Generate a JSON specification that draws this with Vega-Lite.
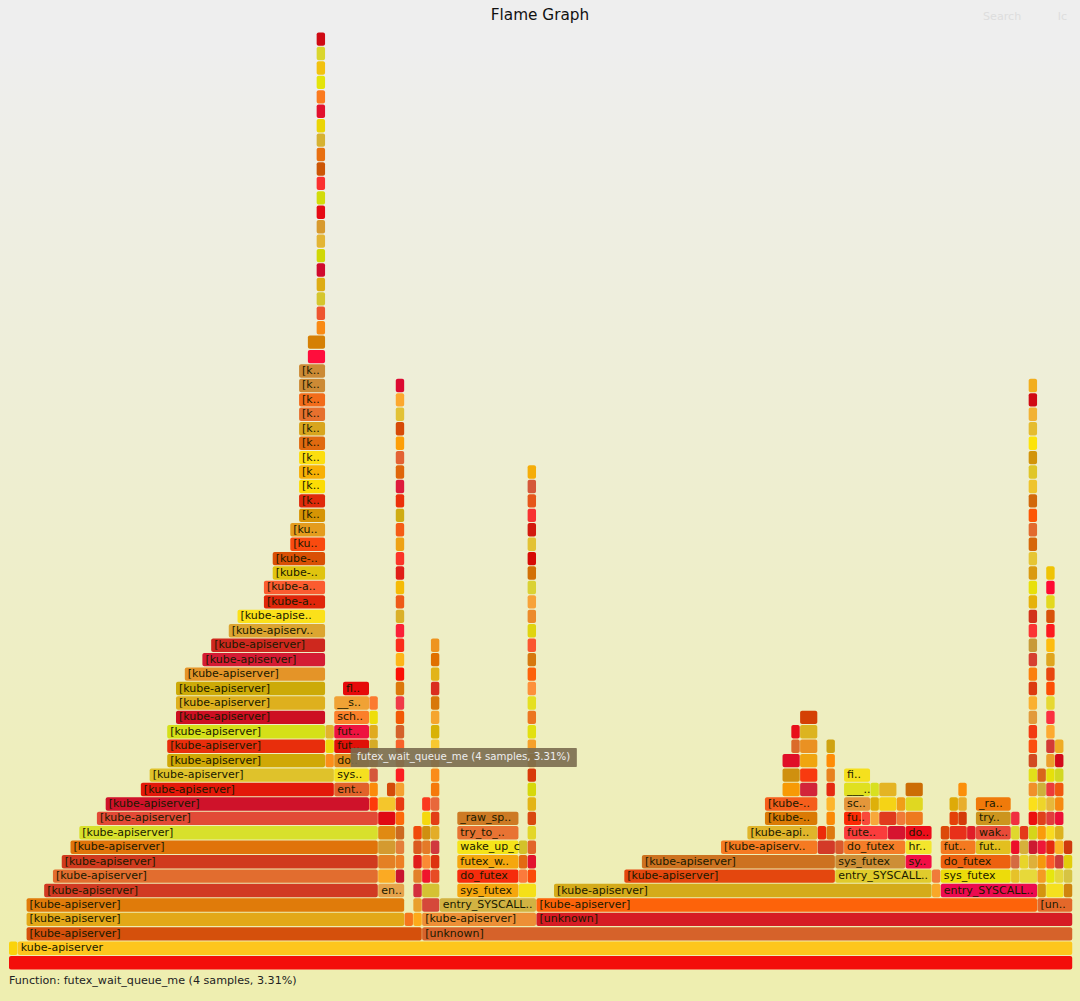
{"$schema":"https://vega.github.io/schema/vega-lite/v6.json","width":1080,"height":1001,"autosize":"none","padding":0,"background":"#eeeeee","config":{"view":{"stroke":null}},
"title":{"text":"Flame Graph","anchor":"middle","offset":-23,"fontSize":15.3,"font":"DejaVu Sans","fontWeight":"normal","color":"#111111"},
"datasets":{"frames":[
{"start":0,"end":121,"level":0,"color":"#f30e0a"},
{"start":0,"end":1,"level":1,"color":"#fad30c"},{"start":1,"end":121,"level":1,"color":"#fdc61d","label":"kube-apiserver"},
{"start":2,"end":47,"level":2,"color":"#d5500c","label":"[kube-apiserver]"},{"start":47,"end":121,"level":2,"color":"#d6622a","label":"[unknown]"},
{"start":2,"end":45,"level":3,"color":"#e3a818","label":"[kube-apiserver]"},{"start":45,"end":46,"level":3,"color":"#f5761d"},{"start":46,"end":47,"level":3,"color":"#fdaa1a"},{"start":47,"end":60,"level":3,"color":"#ed8f36","label":"[kube-apiserver]"},{"start":60,"end":121,"level":3,"color":"#d61c24","label":"[unknown]"},
{"start":2,"end":45,"level":4,"color":"#e07b0a","label":"[kube-apiserver]"},{"start":46,"end":47,"level":4,"color":"#e9a02c"},{"start":47,"end":49,"level":4,"color":"#d5483a"},{"start":49,"end":60,"level":4,"color":"#d2b342","label":"entry_SYSCALL.."},{"start":60,"end":117,"level":4,"color":"#fd630a","label":"[kube-apiserver]"},{"start":117,"end":121,"level":4,"color":"#e3682a","label":"[un.."},
{"start":4,"end":42,"level":5,"color":"#d13a23","label":"[kube-apiserver]"},{"start":42,"end":45,"level":5,"color":"#e6a24a","label":"en.."},{"start":46,"end":47,"level":5,"color":"#d3303c"},{"start":47,"end":49,"level":5,"color":"#d5c233"},{"start":51,"end":58,"level":5,"color":"#f5a60e","label":"sys_futex"},{"start":58,"end":60,"level":5,"color":"#f5e018"},{"start":62,"end":105,"level":5,"color":"#d4ab1a","label":"[kube-apiserver]"},{"start":105,"end":106,"level":5,"color":"#f9a828"},{"start":106,"end":117,"level":5,"color":"#ec0a50","label":"entry_SYSCALL.."},{"start":117,"end":118,"level":5,"color":"#d4940f"},{"start":118,"end":120,"level":5,"color":"#f5e01f"},{"start":120,"end":121,"level":5,"color":"#cf850f"},
{"start":5,"end":42,"level":6,"color":"#e26d2f","label":"[kube-apiserver]"},{"start":42,"end":44,"level":6,"color":"#fbaa23"},{"start":44,"end":45,"level":6,"color":"#c9152f"},{"start":46,"end":47,"level":6,"color":"#e2802a"},{"start":47,"end":48,"level":6,"color":"#f0152c"},{"start":48,"end":49,"level":6,"color":"#e74b25"},{"start":51,"end":58,"level":6,"color":"#f62c0c","label":"do_futex"},{"start":58,"end":59,"level":6,"color":"#fb7a3c"},{"start":59,"end":60,"level":6,"color":"#fb4a0a"},{"start":70,"end":94,"level":6,"color":"#e4470e","label":"[kube-apiserver]"},{"start":94,"end":105,"level":6,"color":"#e0cb2c","label":"entry_SYSCALL.."},{"start":105,"end":106,"level":6,"color":"#f07a3a"},{"start":106,"end":114,"level":6,"color":"#eddc0a","label":"sys_futex"},{"start":114,"end":115,"level":6,"color":"#e6c229"},{"start":115,"end":117,"level":6,"color":"#e7d93a"},{"start":117,"end":118,"level":6,"color":"#f49b22"},{"start":118,"end":119,"level":6,"color":"#e6e60e"},{"start":119,"end":120,"level":6,"color":"#e6d73c"},{"start":120,"end":121,"level":6,"color":"#d6c343"},
{"start":6,"end":42,"level":7,"color":"#d03a1e","label":"[kube-apiserver]"},{"start":42,"end":44,"level":7,"color":"#e48024"},{"start":44,"end":45,"level":7,"color":"#ed8024"},{"start":46,"end":47,"level":7,"color":"#e01e1a"},{"start":47,"end":48,"level":7,"color":"#fb8a34"},{"start":48,"end":49,"level":7,"color":"#dd3310"},{"start":51,"end":58,"level":7,"color":"#f5a70e","label":"futex_w.."},{"start":58,"end":59,"level":7,"color":"#e36a12"},{"start":59,"end":60,"level":7,"color":"#e2122e"},{"start":72,"end":94,"level":7,"color":"#cd7220","label":"[kube-apiserver]"},{"start":94,"end":102,"level":7,"color":"#cd8e36","label":"sys_futex"},{"start":102,"end":105,"level":7,"color":"#f20e44","label":"sy.."},{"start":106,"end":114,"level":7,"color":"#ed610f","label":"do_futex"},{"start":114,"end":115,"level":7,"color":"#d46a42"},{"start":115,"end":116,"level":7,"color":"#e8d52a"},{"start":116,"end":117,"level":7,"color":"#deb03a"},{"start":117,"end":118,"level":7,"color":"#f5980c"},{"start":118,"end":119,"level":7,"color":"#fa5a28"},{"start":119,"end":120,"level":7,"color":"#cd3c38"},{"start":120,"end":121,"level":7,"color":"#e2cd0a"},
{"start":7,"end":42,"level":8,"color":"#e0730a","label":"[kube-apiserver]"},{"start":42,"end":44,"level":8,"color":"#d49a30"},{"start":44,"end":45,"level":8,"color":"#e47f3a"},{"start":46,"end":47,"level":8,"color":"#da5a1e"},{"start":47,"end":48,"level":8,"color":"#e47a28"},{"start":48,"end":49,"level":8,"color":"#d0383e"},{"start":51,"end":58,"level":8,"color":"#f5e41a","label":"wake_up_c"},{"start":58,"end":59,"level":8,"color":"#d3c12a"},{"start":59,"end":60,"level":8,"color":"#e2642a"},{"start":81,"end":92,"level":8,"color":"#f57a22","label":"[kube-apiserv.."},{"start":92,"end":94,"level":8,"color":"#d33a28"},{"start":94,"end":95,"level":8,"color":"#da5a2c"},{"start":95,"end":102,"level":8,"color":"#f57d28","label":"do_futex"},{"start":102,"end":105,"level":8,"color":"#f3e52d","label":"hr.."},{"start":106,"end":110,"level":8,"color":"#f47a20","label":"fut.."},{"start":110,"end":114,"level":8,"color":"#e3bf1f","label":"fut.."},{"start":114,"end":115,"level":8,"color":"#ec0f2a"},{"start":115,"end":116,"level":8,"color":"#d6b03a"},{"start":116,"end":117,"level":8,"color":"#cc1a30"},{"start":117,"end":118,"level":8,"color":"#ee1838"},{"start":118,"end":119,"level":8,"color":"#e42a0f"},{"start":119,"end":120,"level":8,"color":"#fbb324"},{"start":120,"end":121,"level":8,"color":"#cf3a0e"},
{"start":8,"end":42,"level":9,"color":"#d8e02c","label":"[kube-apiserver]"},{"start":42,"end":44,"level":9,"color":"#e08a12"},{"start":44,"end":45,"level":9,"color":"#cc6a20"},{"start":46,"end":47,"level":9,"color":"#f04a0a"},{"start":47,"end":48,"level":9,"color":"#cf8f10"},{"start":48,"end":49,"level":9,"color":"#e3ad28"},{"start":51,"end":58,"level":9,"color":"#e87333","label":"try_to_.."},{"start":59,"end":60,"level":9,"color":"#e3d628"},{"start":84,"end":92,"level":9,"color":"#e0b52b","label":"[kube-api.."},{"start":92,"end":93,"level":9,"color":"#ec2c0a"},{"start":93,"end":94,"level":9,"color":"#dd7a0f"},{"start":95,"end":100,"level":9,"color":"#fa3c3c","label":"fute.."},{"start":100,"end":102,"level":9,"color":"#d6142f"},{"start":102,"end":105,"level":9,"color":"#ed0d1a","label":"do.."},{"start":106,"end":107,"level":9,"color":"#dc4a0a"},{"start":107,"end":109,"level":9,"color":"#e8301a"},{"start":109,"end":110,"level":9,"color":"#e01e28"},{"start":110,"end":114,"level":9,"color":"#e84a38","label":"wak.."},{"start":114,"end":115,"level":9,"color":"#dfd82e"},{"start":115,"end":116,"level":9,"color":"#e4381a"},{"start":116,"end":117,"level":9,"color":"#d5d51a"},{"start":117,"end":118,"level":9,"color":"#f99c0c"},{"start":118,"end":119,"level":9,"color":"#f8da20"},{"start":119,"end":120,"level":9,"color":"#dcb21e"},
{"start":10,"end":42,"level":10,"color":"#e24a36","label":"[kube-apiserver]"},{"start":42,"end":44,"level":10,"color":"#e00a14"},{"start":44,"end":45,"level":10,"color":"#fd6a0a"},{"start":47,"end":48,"level":10,"color":"#f5d80e"},{"start":48,"end":49,"level":10,"color":"#e23f16"},{"start":51,"end":58,"level":10,"color":"#cd7a24","label":"_raw_sp.."},{"start":59,"end":60,"level":10,"color":"#d9480f"},{"start":86,"end":92,"level":10,"color":"#da7a05","label":"[kube-.."},{"start":93,"end":94,"level":10,"color":"#fa8a05"},{"start":95,"end":97,"level":10,"color":"#fb2a05","label":"fu.."},{"start":97,"end":98,"level":10,"color":"#f94a3a"},{"start":98,"end":99,"level":10,"color":"#f7a83a"},{"start":99,"end":101,"level":10,"color":"#e03a1e"},{"start":101,"end":102,"level":10,"color":"#f07a38"},{"start":102,"end":104,"level":10,"color":"#ee7a1f"},{"start":107,"end":108,"level":10,"color":"#e4400a"},{"start":108,"end":109,"level":10,"color":"#d43a0a"},{"start":110,"end":114,"level":10,"color":"#cc951e","label":"try.."},{"start":114,"end":115,"level":10,"color":"#f03040"},{"start":116,"end":117,"level":10,"color":"#ec0f0f"},{"start":117,"end":118,"level":10,"color":"#e0401c"},{"start":118,"end":119,"level":10,"color":"#e23c3c"},{"start":119,"end":120,"level":10,"color":"#ec0f38"},
{"start":11,"end":41,"level":11,"color":"#cf122a","label":"[kube-apiserver]"},{"start":41,"end":42,"level":11,"color":"#fd3a0a"},{"start":42,"end":44,"level":11,"color":"#f4c62c"},{"start":44,"end":45,"level":11,"color":"#e83a12"},{"start":47,"end":48,"level":11,"color":"#fb3a1e"},{"start":48,"end":49,"level":11,"color":"#e8683a"},{"start":59,"end":60,"level":11,"color":"#e3b416"},{"start":86,"end":92,"level":11,"color":"#f55e1c","label":"[kube-.."},{"start":93,"end":94,"level":11,"color":"#fdb52a"},{"start":95,"end":98,"level":11,"color":"#e4963a","label":"sc.."},{"start":98,"end":99,"level":11,"color":"#deb00a"},{"start":99,"end":101,"level":11,"color":"#f5d316"},{"start":101,"end":102,"level":11,"color":"#f09e18"},{"start":102,"end":104,"level":11,"color":"#e0d821"},{"start":107,"end":108,"level":11,"color":"#deaa08"},{"start":108,"end":109,"level":11,"color":"#e8ae2c"},{"start":110,"end":114,"level":11,"color":"#f07a0a","label":"_ra.."},{"start":116,"end":117,"level":11,"color":"#fbe01a"},{"start":117,"end":118,"level":11,"color":"#eed52a"},{"start":118,"end":119,"level":11,"color":"#e7b83a"},{"start":119,"end":120,"level":11,"color":"#f68a10"},
{"start":15,"end":37,"level":12,"color":"#e3190a","label":"[kube-apiserver]"},{"start":37,"end":41,"level":12,"color":"#e2622a","label":"ent.."},{"start":41,"end":42,"level":12,"color":"#fb8a0a"},{"start":43,"end":44,"level":12,"color":"#d44a0a"},{"start":44,"end":45,"level":12,"color":"#f5a030"},{"start":48,"end":49,"level":12,"color":"#f57a0a"},{"start":59,"end":60,"level":12,"color":"#d6d80a"},{"start":88,"end":90,"level":12,"color":"#f79a05"},{"start":90,"end":92,"level":12,"color":"#d2243a"},{"start":93,"end":94,"level":12,"color":"#e52a10"},{"start":95,"end":98,"level":12,"color":"#e0e020","label":"___.."},{"start":98,"end":99,"level":12,"color":"#d8e020"},{"start":99,"end":101,"level":12,"color":"#e4b424"},{"start":102,"end":104,"level":12,"color":"#cc6d05"},{"start":108,"end":109,"level":12,"color":"#fb8f0a"},{"start":116,"end":117,"level":12,"color":"#f0902a"},{"start":117,"end":118,"level":12,"color":"#ceb03a"},{"start":118,"end":119,"level":12,"color":"#ec3a3a"},{"start":119,"end":120,"level":12,"color":"#f0560f"},
{"start":16,"end":37,"level":13,"color":"#dfc22b","label":"[kube-apiserver]"},{"start":37,"end":41,"level":13,"color":"#f5e020","label":"sys.."},{"start":41,"end":42,"level":13,"color":"#d5573a"},{"start":44,"end":45,"level":13,"color":"#fb1e22"},{"start":48,"end":49,"level":13,"color":"#fa8c1a"},{"start":59,"end":60,"level":13,"color":"#d83a0a"},{"start":88,"end":90,"level":13,"color":"#cf900f"},{"start":90,"end":92,"level":13,"color":"#f83a0f"},{"start":93,"end":94,"level":13,"color":"#e8821e"},{"start":95,"end":98,"level":13,"color":"#f5e01e","label":"fi.."},{"start":116,"end":117,"level":13,"color":"#e2e01a"},{"start":117,"end":118,"level":13,"color":"#d8651a"},{"start":118,"end":119,"level":13,"color":"#e6e00a"},{"start":119,"end":120,"level":13,"color":"#d2d822"},
{"start":18,"end":36,"level":14,"color":"#d0a806","label":"[kube-apiserver]"},{"start":36,"end":37,"level":14,"color":"#fb8e1a"},{"start":37,"end":41,"level":14,"color":"#e08a1a","label":"do.."},{"start":41,"end":42,"level":14,"color":"#f09a20"},{"start":44,"end":45,"level":14,"color":"#ee8030"},{"start":48,"end":49,"level":14,"color":"#f8a020"},{"start":59,"end":60,"level":14,"color":"#e08a0a"},{"start":88,"end":90,"level":14,"color":"#e00f28"},{"start":90,"end":92,"level":14,"color":"#f0a50f"},{"start":93,"end":94,"level":14,"color":"#ff8c05"},{"start":116,"end":117,"level":14,"color":"#d24a20"},{"start":118,"end":119,"level":14,"color":"#ec9e2a"},{"start":119,"end":120,"level":14,"color":"#d20a1a"},
{"start":18,"end":36,"level":15,"color":"#e82e0c","label":"[kube-apiserver]"},{"start":36,"end":37,"level":15,"color":"#eed80a"},{"start":37,"end":41,"level":15,"color":"#e01008","label":"fut.."},{"start":41,"end":42,"level":15,"color":"#d6ab26"},{"start":44,"end":45,"level":15,"color":"#f8622a"},{"start":48,"end":49,"level":15,"color":"#f8c830"},{"start":59,"end":60,"level":15,"color":"#f5a02a"},{"start":89,"end":90,"level":15,"color":"#db6a2a"},{"start":90,"end":92,"level":15,"color":"#ea9122"},{"start":93,"end":94,"level":15,"color":"#cfa312"},{"start":116,"end":117,"level":15,"color":"#fb4f0f"},{"start":118,"end":119,"level":15,"color":"#d33a35"},{"start":119,"end":120,"level":15,"color":"#efac24"},
{"start":18,"end":36,"level":16,"color":"#d5e018","label":"[kube-apiserver]"},{"start":36,"end":37,"level":16,"color":"#e2b32c"},{"start":37,"end":41,"level":16,"color":"#ee1240","label":"fut.."},{"start":41,"end":42,"level":16,"color":"#e0ab1e"},{"start":44,"end":45,"level":16,"color":"#d4622a"},{"start":48,"end":49,"level":16,"color":"#d8b206"},{"start":59,"end":60,"level":16,"color":"#e2e010"},{"start":89,"end":90,"level":16,"color":"#e80f1a"},{"start":90,"end":92,"level":16,"color":"#dcb420"},{"start":116,"end":117,"level":16,"color":"#f23a12"},{"start":118,"end":119,"level":16,"color":"#fdaa30"},
{"start":19,"end":36,"level":17,"color":"#cd0f22","label":"[kube-apiserver]"},{"start":37,"end":41,"level":17,"color":"#fb7f2a","label":"sch.."},{"start":41,"end":42,"level":17,"color":"#eede0a"},{"start":44,"end":45,"level":17,"color":"#f25a05"},{"start":48,"end":49,"level":17,"color":"#f5a52e"},{"start":59,"end":60,"level":17,"color":"#ec7520"},{"start":90,"end":92,"level":17,"color":"#d44005"},{"start":116,"end":117,"level":17,"color":"#e29a3a"},{"start":118,"end":119,"level":17,"color":"#fb3040"},
{"start":19,"end":36,"level":18,"color":"#deb01e","label":"[kube-apiserver]"},{"start":37,"end":41,"level":18,"color":"#f0a235","label":"__s.."},{"start":41,"end":42,"level":18,"color":"#fb7a30"},{"start":44,"end":45,"level":18,"color":"#f03a48"},{"start":48,"end":49,"level":18,"color":"#d8780a"},{"start":59,"end":60,"level":18,"color":"#e5e021"},{"start":116,"end":117,"level":18,"color":"#fab030"},{"start":118,"end":119,"level":18,"color":"#e6d833"},
{"start":19,"end":36,"level":19,"color":"#ccaa08","label":"[kube-apiserver]"},{"start":38,"end":41,"level":19,"color":"#e60a0a","label":"fl.."},{"start":44,"end":45,"level":19,"color":"#dc780a"},{"start":48,"end":49,"level":19,"color":"#da2e20"},{"start":59,"end":60,"level":19,"color":"#fd903a"},{"start":116,"end":117,"level":19,"color":"#dc3a10"},{"start":118,"end":119,"level":19,"color":"#fd4e05"},
{"start":20,"end":36,"level":20,"color":"#e49428","label":"[kube-apiserver]"},{"start":44,"end":45,"level":20,"color":"#fb1005"},{"start":48,"end":49,"level":20,"color":"#e2b418"},{"start":59,"end":60,"level":20,"color":"#fd620a"},{"start":116,"end":117,"level":20,"color":"#fb800c"},{"start":118,"end":119,"level":20,"color":"#e8460f"},
{"start":22,"end":36,"level":21,"color":"#d41c34","label":"[kube-apiserver]"},{"start":44,"end":45,"level":21,"color":"#fdb518"},{"start":48,"end":49,"level":21,"color":"#e07000"},{"start":59,"end":60,"level":21,"color":"#d6780f"},{"start":116,"end":117,"level":21,"color":"#d64030"},{"start":118,"end":119,"level":21,"color":"#dfa51e"},
{"start":23,"end":36,"level":22,"color":"#ce281e","label":"[kube-apiserver]"},{"start":44,"end":45,"level":22,"color":"#fb2c1a"},{"start":48,"end":49,"level":22,"color":"#ee9420"},{"start":59,"end":60,"level":22,"color":"#fb5630"},{"start":116,"end":117,"level":22,"color":"#c89a38"},{"start":118,"end":119,"level":22,"color":"#fdbc0f"},
{"start":25,"end":36,"level":23,"color":"#dca530","label":"[kube-apiserv.."},{"start":44,"end":45,"level":23,"color":"#fb2038"},{"start":59,"end":60,"level":23,"color":"#e0d40f"},{"start":116,"end":117,"level":23,"color":"#fb3434"},{"start":118,"end":119,"level":23,"color":"#fd1a1e"},
{"start":26,"end":36,"level":24,"color":"#fbe11a","label":"[kube-apise.."},{"start":44,"end":45,"level":24,"color":"#dab028"},{"start":59,"end":60,"level":24,"color":"#ec8a2a"},{"start":116,"end":117,"level":24,"color":"#d2321a"},{"start":118,"end":119,"level":24,"color":"#d8520a"},
{"start":29,"end":36,"level":25,"color":"#e0260a","label":"[kube-a.."},{"start":44,"end":45,"level":25,"color":"#ee5a18"},{"start":59,"end":60,"level":25,"color":"#f7a238"},{"start":116,"end":117,"level":25,"color":"#e6b20a"},{"start":118,"end":119,"level":25,"color":"#e3d81e"},
{"start":29,"end":36,"level":26,"color":"#fb5c30","label":"[kube-a.."},{"start":44,"end":45,"level":26,"color":"#f5bb05"},{"start":59,"end":60,"level":26,"color":"#dad234"},{"start":116,"end":117,"level":26,"color":"#e8e00a"},{"start":118,"end":119,"level":26,"color":"#ff0a32"},
{"start":30,"end":36,"level":27,"color":"#e0c40f","label":"[kube-.."},{"start":44,"end":45,"level":27,"color":"#e01e18"},{"start":59,"end":60,"level":27,"color":"#d27005"},{"start":116,"end":117,"level":27,"color":"#da9a10"},{"start":118,"end":119,"level":27,"color":"#efc305"},
{"start":30,"end":36,"level":28,"color":"#d95005","label":"[kube-.."},{"start":44,"end":45,"level":28,"color":"#fb3428"},{"start":59,"end":60,"level":28,"color":"#d60a05"},{"start":116,"end":117,"level":28,"color":"#e6c534"},
{"start":32,"end":36,"level":29,"color":"#f94a0f","label":"[ku.."},{"start":44,"end":45,"level":29,"color":"#eea214"},{"start":59,"end":60,"level":29,"color":"#e3c234"},{"start":116,"end":117,"level":29,"color":"#d6670a"},
{"start":32,"end":36,"level":30,"color":"#e49c1e","label":"[ku.."},{"start":44,"end":45,"level":30,"color":"#f55c15"},{"start":59,"end":60,"level":30,"color":"#d21a0e"},{"start":116,"end":117,"level":30,"color":"#e26a2e"},
{"start":33,"end":36,"level":31,"color":"#d69405","label":"[k.."},{"start":44,"end":45,"level":31,"color":"#cfac12"},{"start":59,"end":60,"level":31,"color":"#f83232"},{"start":116,"end":117,"level":31,"color":"#fd5605"},
{"start":33,"end":36,"level":32,"color":"#e02a0a","label":"[k.."},{"start":44,"end":45,"level":32,"color":"#ec300a"},{"start":59,"end":60,"level":32,"color":"#e6561a"},{"start":116,"end":117,"level":32,"color":"#d2680a"},
{"start":33,"end":36,"level":33,"color":"#fcdc05","label":"[k.."},{"start":44,"end":45,"level":33,"color":"#de1a3c"},{"start":59,"end":60,"level":33,"color":"#d5583a"},{"start":116,"end":117,"level":33,"color":"#efc42c"},
{"start":33,"end":36,"level":34,"color":"#f8b005","label":"[k.."},{"start":44,"end":45,"level":34,"color":"#df660a"},{"start":59,"end":60,"level":34,"color":"#f5ad08"},{"start":116,"end":117,"level":34,"color":"#e0c628"},
{"start":33,"end":36,"level":35,"color":"#fcde0f","label":"[k.."},{"start":44,"end":45,"level":35,"color":"#e36233"},{"start":116,"end":117,"level":35,"color":"#d2940a"},
{"start":33,"end":36,"level":36,"color":"#e0690f","label":"[k.."},{"start":44,"end":45,"level":36,"color":"#fd9f08"},{"start":116,"end":117,"level":36,"color":"#fde40a"},
{"start":33,"end":36,"level":37,"color":"#d8a51e","label":"[k.."},{"start":44,"end":45,"level":37,"color":"#d64a08"},{"start":116,"end":117,"level":37,"color":"#e5bc30"},
{"start":33,"end":36,"level":38,"color":"#e6702e","label":"[k.."},{"start":44,"end":45,"level":38,"color":"#e2c236"},{"start":116,"end":117,"level":38,"color":"#f2b234"},
{"start":33,"end":36,"level":39,"color":"#f26c1a","label":"[k.."},{"start":44,"end":45,"level":39,"color":"#fca82f"},{"start":116,"end":117,"level":39,"color":"#d00a14"},
{"start":33,"end":36,"level":40,"color":"#cc8a35","label":"[k.."},{"start":44,"end":45,"level":40,"color":"#dc0a32"},{"start":116,"end":117,"level":40,"color":"#f2ae1e"},
{"start":33,"end":36,"level":41,"color":"#cc8a35","label":"[k.."},
{"start":34,"end":36,"level":42,"color":"#ff0d3c"},{"start":34,"end":36,"level":43,"color":"#d58005"},
{"start":35,"end":36,"level":44,"color":"#f98a14"},{"start":35,"end":36,"level":45,"color":"#ee5530"},{"start":35,"end":36,"level":46,"color":"#d5c62e"},{"start":35,"end":36,"level":47,"color":"#deac14"},{"start":35,"end":36,"level":48,"color":"#d00a2e"},{"start":35,"end":36,"level":49,"color":"#d0d805"},{"start":35,"end":36,"level":50,"color":"#e3b534"},{"start":35,"end":36,"level":51,"color":"#d89a2e"},{"start":35,"end":36,"level":52,"color":"#e60a14"},{"start":35,"end":36,"level":53,"color":"#d2dc0a"},{"start":35,"end":36,"level":54,"color":"#fb3030"},{"start":35,"end":36,"level":55,"color":"#cc5505"},{"start":35,"end":36,"level":56,"color":"#e86f10"},{"start":35,"end":36,"level":57,"color":"#d6b232"},{"start":35,"end":36,"level":58,"color":"#ebd505"},{"start":35,"end":36,"level":59,"color":"#e2102e"},{"start":35,"end":36,"level":60,"color":"#fb7a1e"},{"start":35,"end":36,"level":61,"color":"#e4e40a"},{"start":35,"end":36,"level":62,"color":"#f2c20f"},{"start":35,"end":36,"level":63,"color":"#dad62e"},{"start":35,"end":36,"level":64,"color":"#cf0a14"}
]},
"encoding":{"x":{"field":"start","type":"quantitative","axis":null,"scale":{"domain":[-1.024,121.84],"nice":false,"zero":false}},"y":{"field":"level","type":"quantitative","axis":null,"scale":{"domain":[-2.654,66.71],"nice":false,"zero":false}}},
"layer":[
{"data":{"values":[{"panel":"background"}]},"mark":{"type":"rect","fill":{"gradient":"linear","x1":0,"y1":0,"x2":0,"y2":1,"stops":[{"offset":0.05,"color":"#eeeeee"},{"offset":0.95,"color":"#eeeeb0"}]}},"encoding":{"x":{"value":0},"x2":{"value":1080},"y":{"value":0},"y2":{"value":1001}}},
{"data":{"name":"frames"},"mark":{"type":"rect","height":13.4,"cornerRadius":2,"x2Offset":-0.4},"encoding":{"x2":{"field":"end"},"fill":{"field":"color","type":"nominal","scale":null,"legend":null}}},
{"data":{"name":"frames"},"transform":[{"filter":"datum.label"}],"mark":{"type":"text","align":"left","baseline":"middle","font":"DejaVu Sans","fontSize":11,"xOffset":3,"fill":"#1a1a00"},"encoding":{"text":{"field":"label"}}},
{"data":{"values":[{"start":38.87,"end":64.6,"level":14.22}]},"mark":{"type":"rect","height":19,"cornerRadius":1,"fill":"#7a6c4f","opacity":0.9},"encoding":{"x2":{"field":"end"}}},
{"data":{"values":[{"start":39.6,"level":14.22,"label":"futex_wait_queue_me (4 samples, 3.31%)"}]},"mark":{"type":"text","align":"left","baseline":"middle","font":"DejaVu Sans","fontSize":10.2,"fill":"#eeeeee"},"encoding":{"text":{"field":"label"}}},
{"data":{"values":[{"start":0,"level":-1.3,"label":"Function: futex_wait_queue_me (4 samples, 3.31%)","tone":"#222222"},{"start":110.8,"level":65.55,"label":"Search","tone":"#dddddd"},{"start":119.3,"level":65.55,"label":"Ic","tone":"#dddddd"}]},"mark":{"type":"text","align":"left","baseline":"middle","font":"DejaVu Sans","fontSize":11.15},"encoding":{"text":{"field":"label"},"fill":{"field":"tone","type":"nominal","scale":null,"legend":null}}}
]}
